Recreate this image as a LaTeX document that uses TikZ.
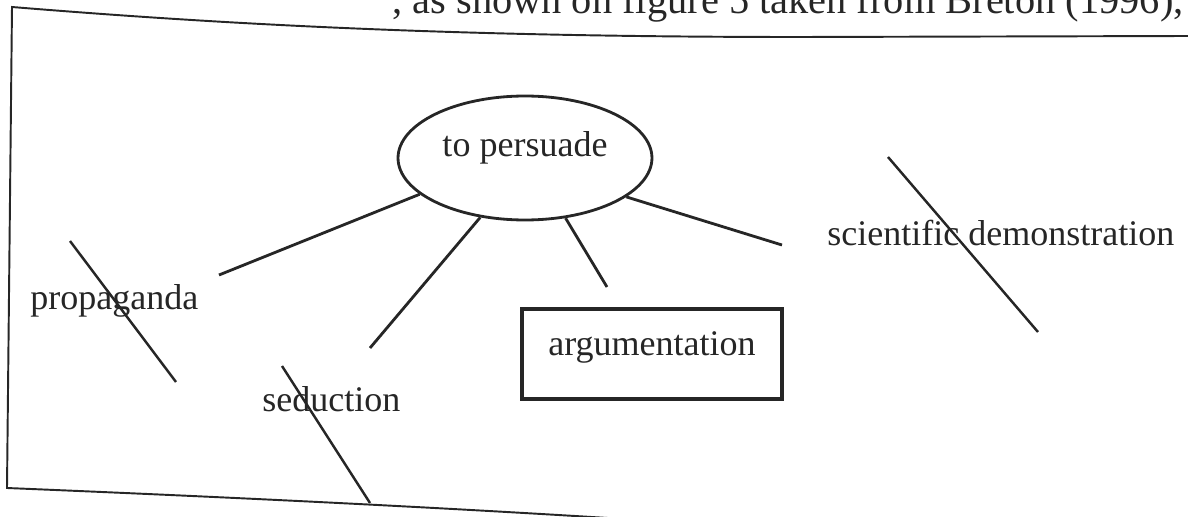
\documentclass[tikz,border=0pt]{standalone}
\usepackage{fontspec}
\setmainfont{Liberation Serif}
\usetikzlibrary{shapes.geometric}
\definecolor{ink}{HTML}{262626}

\begin{document}
\begin{tikzpicture}[
    x=0.02cm, y=-0.02cm,
    word/.style={inner sep=0pt, anchor=base west, text=ink, font=\fontsize{20.5}{24}\selectfont},
    goal/.style={ellipse, draw=ink, line width=1.6pt, minimum width=5.08cm, minimum height=2.48cm,
        text=ink, font=\fontsize{20.5}{24}\selectfont, text height=0.7em, text depth=0.9em},
    chosen/.style={rectangle, draw=ink, line width=2.3pt, minimum width=5.2cm, minimum height=1.8cm,
        text=ink, font=\fontsize{20.5}{24}\selectfont, text height=0.68em, text depth=0.56em},
    link/.style={ink, line width=1.6pt},
    strike/.style={ink, line width=1.4pt}
]
    \clip (0,0) rectangle (1188,517);

    % frame
    \draw[ink, line width=1.1pt] (1188,36) -- (800,37) .. controls (450,37) and (220,24) .. (12,7)
        -- (7,488) .. controls (250,498) and (450,508) .. (640,520);

    % caption line above, cut by the page
    \node[word, font=\fontsize{23}{27}\selectfont] (caption) at (392,14) {, as shown on figure 5 taken from Breton (1996),};

    \node[goal] (persuade) at (525,158) {to persuade};
    \node[word] (propaganda) at (30,310) {propaganda};
    \node[word] (seduction) at (262,411) {seduction};
    \node[chosen] (argumentation) at (652,354) {argumentation};
    \node[word] (science) at (827,246) {scientific demonstration};

    % loose ends of the links
    \coordinate (to prop) at (219,275);
    \coordinate (to sed) at (370,348);
    \coordinate (to arg) at (607,287);
    \coordinate (to sci) at (782,245);

    \draw[link] (persuade.199) -- (to prop);
    \draw[link] (persuade.233) -- (to sed);
    \draw[link] (persuade.304) -- (to arg);
    \draw[link] (persuade.339) -- (to sci);

    % crossing-out strokes
    \coordinate (prop a) at (70,241);  \coordinate (prop b) at (176,382);
    \coordinate (sed a) at (282,366);  \coordinate (sed b) at (370,503);
    \coordinate (sci a) at (888,157);  \coordinate (sci b) at (1038,332);
    \draw[strike] (prop a) -- (prop b);
    \draw[strike] (sed a) -- (sed b);
    \draw[strike] (sci a) -- (sci b);
\end{tikzpicture}
\end{document}
